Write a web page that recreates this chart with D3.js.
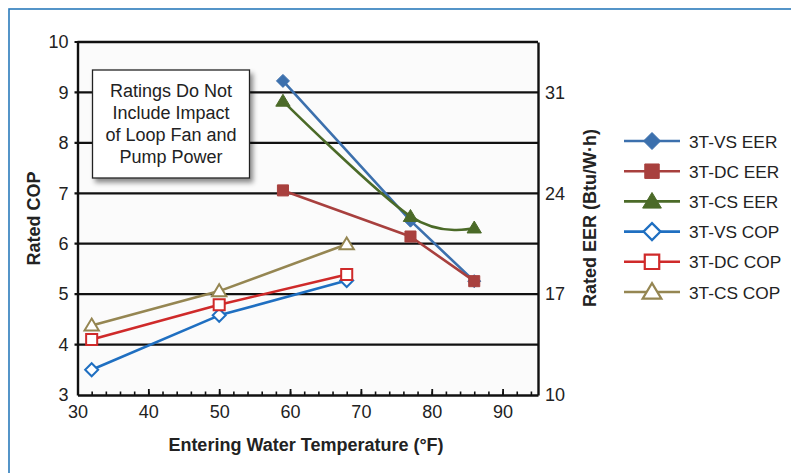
<!DOCTYPE html>
<html>
<head>
<meta charset="utf-8">
<script src="https://cdn.jsdelivr.net/npm/d3@7"></script>
<style>
  body { margin: 0; background: #fff; }
  svg { display: block; font-family: "Liberation Sans", Arial, Helvetica, sans-serif; }
</style>
</head>
<body>
<div id="chart"></div>
<script>
// water temperatures (°F)
var copTemps = [32, 50, 68];
var eerTemps = [59, 77, 86];

// COP series (left axis)
var vsCop = [3.5, 4.58, 5.27];
var dcCop = [4.1, 4.79, 5.39];
var csCop = [4.38, 5.06, 5.99];

// EER series (right axis, Btu/W·h)
var vsEer = [31.8, 22.1, 17.9];
var dcEer = [24.2, 21.0, 17.9];
var csEer = [30.4, 22.4, 21.6];

var copTicks = [3, 4, 5, 6, 7, 8, 9, 10];
var eerTicks = [10, 17, 24, 31];
var tempTicks = [30, 40, 50, 60, 70, 80, 90];

var noteLines = ["Ratings Do Not", "Include Impact", "of Loop Fan and", "Pump Power"];

var series = [
  { name: "3T-VS EER", temps: eerTemps, vals: vsEer, axis: "R", color: "#3c70ad", shape: "diamond", filled: true, smooth: false },
  { name: "3T-DC EER", temps: eerTemps, vals: dcEer, axis: "R", color: "#a8403e", shape: "square", filled: true, smooth: false },
  { name: "3T-CS EER", temps: eerTemps, vals: csEer, axis: "R", color: "#4b6a28", shape: "triangle", filled: true, smooth: true },
  { name: "3T-VS COP", temps: copTemps, vals: vsCop, axis: "L", color: "#1f6fc1", shape: "diamond", filled: false, smooth: false },
  { name: "3T-DC COP", temps: copTemps, vals: dcCop, axis: "L", color: "#cf2a2a", shape: "square", filled: false, smooth: false },
  { name: "3T-CS COP", temps: copTemps, vals: csCop, axis: "L", color: "#958652", shape: "triangle", filled: false, smooth: false }
];

var W = 791, H = 473;
var plotL = 77.5, plotR = 538, plotT = 42, plotB = 395;
var fs = 18;

var svg = d3.select("#chart").append("svg")
  .attr("width", W)
  .attr("height", H);

var defs = svg.append("defs");
var f = defs.append("filter").attr("id", "shadow")
  .attr("x", "-10%").attr("y", "-10%").attr("width", "130%").attr("height", "140%");
f.append("feDropShadow")
  .attr("dx", 3).attr("dy", 4).attr("stdDeviation", 2.5)
  .attr("flood-color", "#000").attr("flood-opacity", 0.45);

// outer frame (only top and left visible)
svg.append("rect")
  .attr("x", 9).attr("y", 9)
  .attr("width", 900).attr("height", 600)
  .attr("fill", "none")
  .attr("stroke", "#2b7bbb")
  .attr("stroke-width", 1.6);

var x = d3.scaleLinear().domain([30, 95]).range([plotL, plotR]);
var yL = d3.scaleLinear().domain([3, 10]).range([plotB, plotT]);
var yR = d3.scaleLinear().domain([10, 34.5]).range([plotB, plotT]);

// plot background
svg.append("rect")
  .attr("x", plotL).attr("y", plotT)
  .attr("width", plotR - plotL).attr("height", plotB - plotT)
  .attr("fill", "#fbfbfb");

// gridlines
svg.append("g")
  .selectAll("line")
  .data(copTicks.slice(1))
  .enter()
  .append("line")
  .attr("x1", plotL - 3)
  .attr("x2", plotR)
  .attr("y1", function (d) { return yL(d); })
  .attr("y2", function (d) { return yL(d); })
  .attr("stroke", "#111")
  .attr("stroke-width", 2.2);

// left axis
var gL = svg.append("g")
  .attr("transform", "translate(" + plotL + ",0)")
  .call(d3.axisLeft(yL).tickValues(copTicks).tickFormat(d3.format("d")).tickSize(0).tickPadding(9));
gL.select(".domain").attr("stroke", "#111").attr("stroke-width", 2.4);
gL.selectAll("text").attr("font-size", fs).attr("fill", "#222").attr("font-family", "Liberation Sans, Arial, sans-serif");

// right axis
var gR = svg.append("g")
  .attr("transform", "translate(" + plotR + ",0)")
  .call(d3.axisRight(yR).tickValues(eerTicks).tickFormat(d3.format("d")).tickSize(0).tickPadding(7));
gR.select(".domain").attr("stroke", "#111").attr("stroke-width", 2.4);
gR.selectAll("text").attr("font-size", fs).attr("fill", "#222").attr("font-family", "Liberation Sans, Arial, sans-serif");

// bottom axis: minor ticks every 2 °F
var gMinor = svg.append("g")
  .attr("transform", "translate(0," + plotB + ")")
  .call(d3.axisBottom(x).tickValues(d3.range(30, 96, 2)).tickSize(-3.5).tickFormat(""));
gMinor.select(".domain").remove();
gMinor.selectAll("line").attr("stroke", "#111").attr("stroke-width", 1.6);

var gB = svg.append("g")
  .attr("transform", "translate(0," + plotB + ")")
  .call(d3.axisBottom(x).tickValues(tempTicks).tickSizeInner(-6).tickSizeOuter(0).tickPadding(9));
gB.select(".domain").attr("stroke", "#111").attr("stroke-width", 2.4);
gB.selectAll("line").attr("stroke", "#111").attr("stroke-width", 1.8);
gB.selectAll("text").attr("font-size", fs).attr("fill", "#222").attr("dy", "0.8em").attr("font-family", "Liberation Sans, Arial, sans-serif");

// top border
svg.append("line")
  .attr("x1", plotL).attr("x2", plotR)
  .attr("y1", plotT).attr("y2", plotT)
  .attr("stroke", "#111").attr("stroke-width", 2.4);

// axis titles
svg.append("text")
  .attr("x", 306)
  .attr("y", 451)
  .attr("text-anchor", "middle")
  .attr("font-size", fs)
  .attr("font-weight", "bold")
  .attr("fill", "#222")
  .text("Entering Water Temperature (°F)");

svg.append("text")
  .attr("transform", "translate(40," + ((plotT + plotB) / 2) + ") rotate(-90)")
  .attr("text-anchor", "middle")
  .attr("font-size", fs)
  .attr("font-weight", "bold")
  .attr("fill", "#222")
  .text("Rated COP");

svg.append("text")
  .attr("transform", "translate(596,218) rotate(-90)")
  .attr("text-anchor", "middle")
  .attr("font-size", fs)
  .attr("font-weight", "bold")
  .attr("fill", "#222")
  .text("Rated EER (Btu/W·h)");

// note box
var note = svg.append("g");
note.append("rect")
  .attr("x", 92.5).attr("y", 70)
  .attr("width", 157).attr("height", 108)
  .attr("fill", "#fff")
  .attr("stroke", "#222")
  .attr("stroke-width", 1.3)
  .attr("filter", "url(#shadow)");
note.selectAll("text")
  .data(noteLines)
  .enter()
  .append("text")
  .attr("x", 171)
  .attr("y", function (d, i) { return 97 + i * 22; })
  .attr("text-anchor", "middle")
  .attr("font-size", fs)
  .attr("fill", "#222")
  .text(function (d) { return d; });

function markerPath(shape, s) {
  if (shape == "diamond") {
    return "M0," + (-s) + "L" + s + ",0L0," + s + "L" + (-s) + ",0Z";
  }
  if (shape == "square") {
    var h = s * 0.85;
    return "M" + (-h) + "," + (-h) + "H" + h + "V" + h + "H" + (-h) + "Z";
  }
  // triangle
  var t = s * 1.05;
  return "M0," + (-t) + "L" + (t * 1.05) + "," + (t * 0.75) + "L" + (-t * 1.05) + "," + (t * 0.75) + "Z";
}

var straight = d3.line();
var smooth = d3.line().curve(d3.curveCatmullRom.alpha(0));

// draw COP first, EER on top
var drawOrder = [3, 4, 5, 0, 1, 2];
drawOrder.forEach(function (k) {
  var s = series[k];
  var yS = s.axis == "L" ? yL : yR;
  var pts = s.temps.map(function (t, i) { return [x(t), yS(s.vals[i])]; });
  var g = svg.append("g");
  g.append("path")
    .attr("d", (s.smooth ? smooth : straight)(pts))
    .attr("fill", "none")
    .attr("stroke", s.color)
    .attr("stroke-width", 2.6)
    .attr("stroke-linejoin", "round");
  g.selectAll("path.mk")
    .data(pts)
    .enter()
    .append("path")
    .attr("class", "mk")
    .attr("transform", function (d) { return "translate(" + d[0] + "," + d[1] + ")"; })
    .attr("d", markerPath(s.shape, 6.5))
    .attr("fill", s.filled ? s.color : "#fff")
    .attr("stroke", s.color)
    .attr("stroke-width", s.filled ? 1 : 2);
});

// legend
var legend = svg.append("g").attr("transform", "translate(624,141)");
var item = legend.selectAll("g")
  .data(series)
  .enter()
  .append("g")
  .attr("transform", function (d, i) { return "translate(0," + (i * 30.2) + ")"; });
item.append("line")
  .attr("x1", 0).attr("x2", 56)
  .attr("stroke", function (d) { return d.color; })
  .attr("stroke-width", 2.6);
item.append("path")
  .attr("transform", "translate(28,0)")
  .attr("d", function (d) { return markerPath(d.shape, 8.5); })
  .attr("fill", function (d) { return d.filled ? d.color : "#fff"; })
  .attr("stroke", function (d) { return d.color; })
  .attr("stroke-width", function (d) { return d.filled ? 1 : 2.2; });
item.append("text")
  .attr("x", 65)
  .attr("y", 6.5)
  .attr("font-size", 17.3)
  .attr("fill", "#222")
  .text(function (d) { return d.name; });
</script>
</body>
</html>
